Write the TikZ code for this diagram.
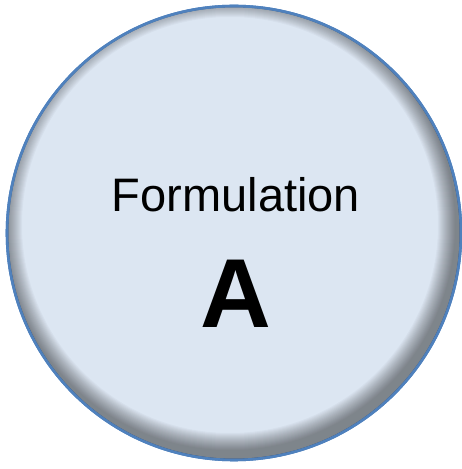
\documentclass[tikz,border=0pt]{standalone}
\usepackage{fontspec}
\setmainfont{Liberation Sans}
\usepackage{xcolor}
\usetikzlibrary{positioning}

\definecolor{bubblefill}{HTML}{DCE6F2}
\definecolor{bubbleline}{HTML}{4F81BD}

\begin{document}
\begin{tikzpicture}[
    x=1pt, y=1pt,
    bubble/.style={circle, draw=bubbleline, fill=bubblefill, line width=2.6pt,
                   minimum size=454pt, inner sep=0pt},
    title/.style={anchor=base, font=\fontsize{47}{56}\selectfont},
    letter/.style={anchor=base, font=\fontsize{98}{110}\selectfont\bfseries},
]
\useasboundingbox (0,0) rectangle (461,469);

% Circle
\node[bubble] (bubble) at (234,236) {};

% Inner shadow
\begin{scope}
  \clip (234,236) circle (226);
  \foreach \k in {1,...,18}
    \fill[black, opacity=0.028, even odd rule] (230,244) circle (250) (230,244) circle (226-\k);
\end{scope}
\draw[bubbleline, line width=2.6pt] (bubble.center) circle (227);

% Labels
\node[title] (name) at (236,257) {Formulation};
\node[letter] (tag) at (236,141) {A};

\end{tikzpicture}
\end{document}
